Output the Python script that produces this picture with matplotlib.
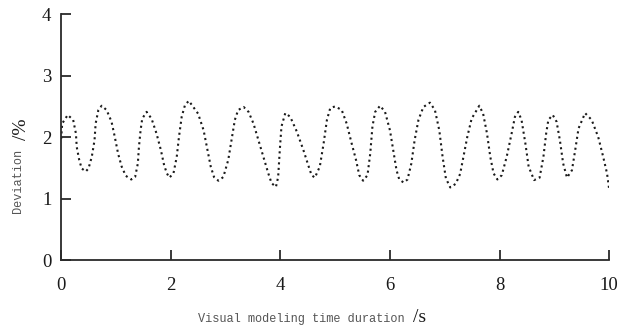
import matplotlib.pyplot as plt

# time (s) and deviation (%)
t = [0.0, 0.02, 0.12, 0.22, 0.27, 0.285, 0.33, 0.375, 0.45, 0.50, 0.56, 0.61, 0.63, 0.68,
     0.74, 0.83, 0.92, 0.98, 1.04, 1.105, 1.18, 1.28, 1.35, 1.40, 1.42, 1.45, 1.48,
     1.56, 1.65, 1.74, 1.82, 1.88, 1.93, 1.975, 2.05, 2.11, 2.15, 2.20, 2.26,
     2.33, 2.50, 2.60, 2.67, 2.73, 2.79, 2.87, 2.96, 3.05, 3.11, 3.17, 3.23,
     3.33, 3.42, 3.51, 3.60, 3.69, 3.78, 3.84, 3.92, 3.96, 3.99, 4.02,
     4.09, 4.18, 4.30, 4.42, 4.51, 4.57, 4.63, 4.72, 4.79, 4.85, 4.91,
     5.00, 5.12, 5.21, 5.30, 5.38, 5.44, 5.51, 5.59, 5.64, 5.68, 5.73,
     5.82, 5.91, 6.00, 6.06, 6.12, 6.17, 6.25, 6.32, 6.39, 6.45, 6.52, 6.61,
     6.73, 6.82, 6.90, 6.96, 7.02, 7.10, 7.20, 7.28, 7.34, 7.41, 7.49,
     7.63, 7.70, 7.77, 7.83, 7.89, 7.96, 8.04, 8.13, 8.22, 8.28,
     8.34, 8.40, 8.47, 8.53, 8.63, 8.73, 8.80, 8.85, 8.89,
     8.97, 9.04, 9.10, 9.16, 9.23, 9.32, 9.38, 9.44,
     9.56, 9.68, 9.80, 9.89, 9.96, 10.0]
dev = [1.97, 2.22, 2.36, 2.28, 2.06, 1.84, 1.63, 1.49, 1.44, 1.49, 1.68, 1.95, 2.22, 2.44,
       2.51, 2.44, 2.25, 2.00, 1.73, 1.52, 1.37, 1.31, 1.35, 1.57, 1.84, 2.11, 2.30,
       2.41, 2.30, 2.06, 1.79, 1.54, 1.41, 1.34, 1.41, 1.68, 2.00, 2.33, 2.52,
       2.59, 2.38, 2.11, 1.79, 1.52, 1.35, 1.29, 1.35, 1.63, 1.95, 2.28, 2.44,
       2.49, 2.41, 2.22, 1.95, 1.68, 1.41, 1.25, 1.19, 1.35, 1.79, 2.17,
       2.39, 2.33, 2.09, 1.79, 1.54, 1.38, 1.34, 1.52, 1.90, 2.28, 2.47,
       2.50, 2.44, 2.22, 1.90, 1.63, 1.38, 1.29, 1.38, 1.73, 2.17, 2.41,
       2.51, 2.41, 2.11, 1.79, 1.46, 1.31, 1.26, 1.31, 1.57, 1.95, 2.28, 2.49,
       2.56, 2.44, 2.11, 1.68, 1.33, 1.18, 1.24, 1.40, 1.68, 2.00, 2.30,
       2.51, 2.38, 2.06, 1.68, 1.41, 1.31, 1.38, 1.68, 2.06, 2.33,
       2.41, 2.28, 1.90, 1.52, 1.30, 1.34, 1.68, 2.06, 2.28,
       2.36, 2.25, 1.95, 1.57, 1.34, 1.46, 1.79, 2.14,
       2.39, 2.28, 2.00, 1.68, 1.41, 1.15]

xticks = [0, 2, 4, 6, 8, 10]
yticks = [0, 1, 2, 3, 4]

fig = plt.figure(figsize=(6.21, 3.29), dpi=100)
ax = fig.add_axes([0.0984, 0.2097, 0.8826, 0.7473])

ax.plot(t, dev, color='#1a1a1a', linestyle=':', linewidth=1.5)

ax.set_xlim(0, 10)
ax.set_ylim(0, 4)
ax.set_xticks(xticks)
ax.set_yticks(yticks)
for s in ['top', 'right']:
    ax.spines[s].set_visible(False)
for s in ['left', 'bottom']:
    ax.spines[s].set_linewidth(1.3)
    ax.spines[s].set_color('#2a2a2a')
ax.tick_params(direction='in', length=7.5, width=1.3, color='#2a2a2a',
               labelsize=13.5, labelfontfamily='Liberation Serif', labelcolor='#1a1a1a')
ax.tick_params(axis='x', pad=12)
ax.tick_params(axis='y', pad=7)

# axis titles: monospace words + serif unit
fig.text(198 / 621, 1 - 319 / 329, 'Visual modeling time duration', family='Liberation Mono',
         fontsize=8.6, color='#555555', ha='left', va='center')
fig.text(413 / 621, 1 - 318 / 329, '/s', family='Liberation Serif',
         fontsize=14, color='#1a1a1a', ha='left', va='center')
fig.text(18 / 621, 1 - 181 / 329, 'Deviation', family='Liberation Mono',
         fontsize=8.6, color='#555555', rotation=90, ha='center', va='center')
fig.text(21 / 621, 1 - 129 / 329, '/%', family='Liberation Serif',
         fontsize=14, color='#1a1a1a', rotation=90, ha='center', va='center')

fig.savefig('out.png', dpi=100)
